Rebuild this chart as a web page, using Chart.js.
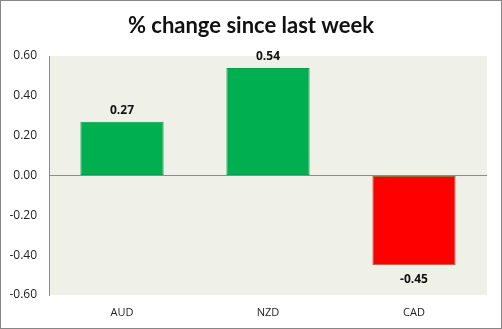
<!DOCTYPE html>
<html>
<head>
<meta charset="utf-8">
<script src="https://cdn.jsdelivr.net/npm/chart.js@4"></script>
<style>
  html, body { margin: 0; padding: 0; background: #ffffff; }
  #wrap { width: 502px; height: 329px; position: relative; }
</style>
</head>
<body>
<div id="wrap"><canvas id="chart" width="502" height="329"></canvas></div>
<script>
const titleText = "% change since last week";
const categories = ["AUD", "NZD", "CAD"];
const changes = [0.27, 0.54, -0.45];
const yTicks = [-0.6, -0.4, -0.2, 0, 0.2, 0.4, 0.6];

const upColor = "#00b050";
const downColor = "#ff0000";

// background, plot fill, outer border and the title centred on the whole canvas
const frame = {
  id: "frame",
  beforeDraw(chart) {
    const { ctx, chartArea } = chart;
    ctx.save();
    ctx.fillStyle = "#ffffff";
    ctx.fillRect(0, 0, chart.width, chart.height);
    ctx.fillStyle = "#eff1e8";
    ctx.fillRect(chartArea.left, chartArea.top, chartArea.right - chartArea.left, chartArea.bottom - chartArea.top);
    ctx.strokeStyle = "#868686";
    ctx.lineWidth = 2;
    ctx.strokeRect(0, 0, chart.width, chart.height);
    ctx.font = "bold 22px Lato, 'Open Sans', sans-serif";
    ctx.fillStyle = "#111111";
    ctx.textAlign = "center";
    ctx.textBaseline = "middle";
    ctx.fillText(titleText, chart.width / 2, 26);
    ctx.restore();
  },
};

const valueLabels = {
  id: "valueLabels",
  afterDatasetsDraw(chart) {
    const { ctx } = chart;
    const meta = chart.getDatasetMeta(0);
    ctx.save();
    ctx.font = "bold 12px 'Open Sans', sans-serif";
    ctx.fillStyle = "#111111";
    ctx.textAlign = "center";
    ctx.textBaseline = "middle";
    meta.data.forEach((bar, index) => {
      const value = changes[index];
      const y = value >= 0 ? bar.y - 11 : bar.y + 14;
      ctx.fillText(value.toFixed(2), bar.x, y);
    });
    ctx.restore();
  },
};

new Chart(document.querySelector("#chart"), {
  type: "bar",
  data: {
    labels: categories,
    datasets: [
      {
        data: changes,
        backgroundColor: changes.map((v) => (v >= 0 ? upColor : downColor)),
        borderColor: changes.map((v) => (v >= 0 ? "#08a04a" : "#9a6a3c")),
        borderWidth: 1,
        borderSkipped: false,
        categoryPercentage: 1,
        barPercentage: 0.57,
      },
    ],
  },
  options: {
    responsive: false,
    animation: false,
    layout: {
      padding: { left: 0, right: 15, top: 56, bottom: 0 },
    },
    plugins: {
      legend: { display: false },
      tooltip: { enabled: false },
      title: { display: false },
    },
    scales: {
      x: {
        grid: { display: false },
        border: { display: false },
        ticks: {
          color: "#222222",
          padding: 3,
          font: { family: "'Open Sans', sans-serif", size: 11 },
        },
        afterFit: (scale) => {
          scale.height = 34;
        },
      },
      y: {
        min: -0.6,
        max: 0.6,
        afterBuildTicks: (scale) => {
          scale.ticks = yTicks.map((value) => ({ value }));
        },
        grid: {
          drawTicks: false,
          color: (context) => (context.tick && context.tick.value === 0 ? "#8c8c8c" : "rgba(0,0,0,0)"),
          lineWidth: 1,
        },
        border: { display: true, color: "#8c8c8c", width: 1 },
        ticks: {
          color: "#222222",
          padding: 12,
          font: { family: "'Open Sans', sans-serif", size: 12 },
          callback: (value) => Number(value).toFixed(2),
        },
        afterFit: (scale) => {
          scale.width = 49;
        },
      },
    },
  },
  plugins: [frame, valueLabels],
});
</script>
</body>
</html>
